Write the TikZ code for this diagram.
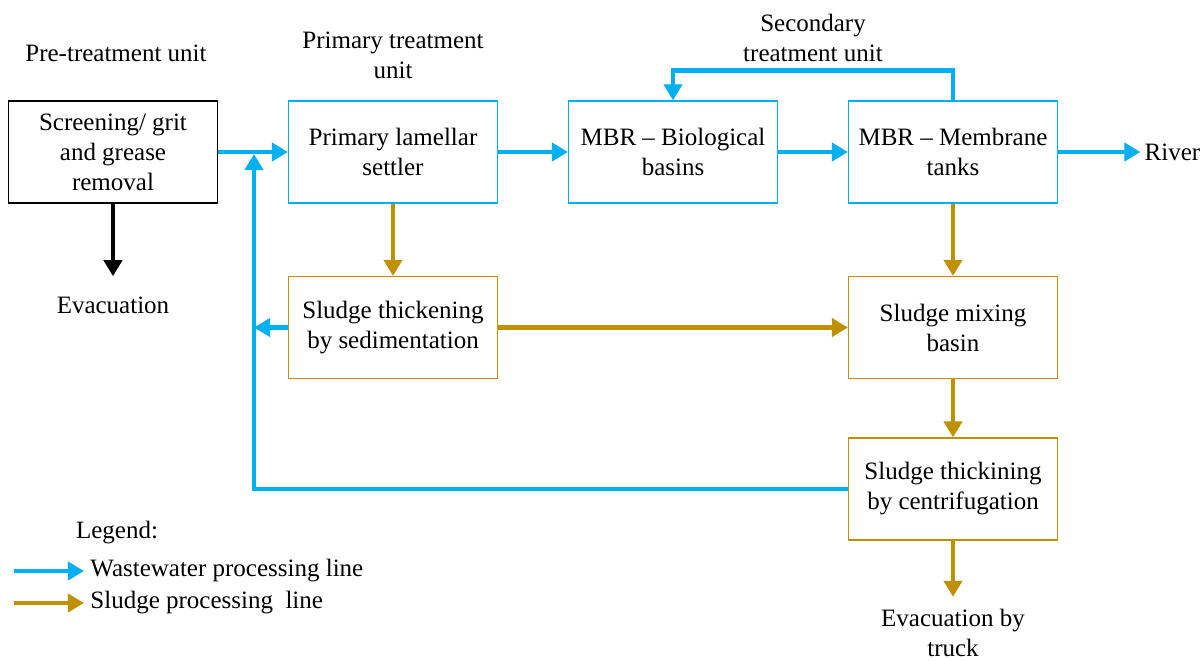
\documentclass[tikz,border=0pt]{standalone}
\usepackage{fontspec}
\setmainfont{Liberation Serif}
\usetikzlibrary{arrows.meta}
\definecolor{water}{HTML}{00B0F0}
\definecolor{sludge}{HTML}{BF9000}
\tikzstyle{pretreat} = [rectangle, minimum width=104.5pt, minimum height=51pt, text centered, align=center, draw=black, line width=0.6pt]
\tikzstyle{waterbox} = [rectangle, minimum width=104.5pt, minimum height=51pt, text centered, align=center, draw=water, line width=0.6pt]
\tikzstyle{sludgebox} = [rectangle, minimum width=104.5pt, minimum height=51pt, text centered, align=center, draw=sludge, line width=0.6pt]
\tikzstyle{plaintext} = [align=center, inner sep=2pt]
\tikzstyle{waterarrow} = [line width=2.2pt, draw=water, -{Triangle[length=8pt,width=9pt]}]
\tikzstyle{sludgearrow} = [line width=2.2pt, draw=sludge, -{Triangle[length=8pt,width=9pt]}]
\tikzstyle{blackarrow} = [line width=2.2pt, draw=black, -{Triangle[length=8pt,width=9pt]}]

\begin{document}
\begin{tikzpicture}[node distance=140pt, font=\fontsize{12.5}{15}\selectfont]

\useasboundingbox (-56.5pt,76pt) rectangle (545pt,-254pt);

\node (pre) [pretreat] {Screening/ grit\\and grease\\removal};
\node (prim) [waterbox, right of=pre] {Primary lamellar\\settler};
\node (bio) [waterbox, right of=prim] {MBR -- Biological\\basins};
\node (memb) [waterbox, right of=bio] {MBR -- Membrane\\tanks};
\node (sed) [sludgebox, below of=prim, node distance=87.75pt] {Sludge thickening\\by sedimentation};
\node (mix) [sludgebox, below of=memb, node distance=87.75pt] {Sludge mixing\\basin};
\node (cen) [sludgebox, below of=mix, node distance=80.75pt] {Sludge thickining\\by centrifugation};

\node (river) [plaintext, right of=memb, node distance=109.75pt] {River};
\node (evac) [plaintext, below of=pre, node distance=76.5pt] {Evacuation};
\node (truck) [plaintext, below of=cen, node distance=72pt] {Evacuation by\\truck};
\node (tpre) [plaintext, above of=pre, node distance=49.5pt, xshift=1.5pt] {Pre-treatment unit};
\node (tprim) [plaintext, above of=prim, node distance=48.5pt] {Primary treatment\\unit};
\node (tsec) [plaintext, above of=memb, node distance=57pt, xshift=-70pt] {Secondary\\treatment unit};

% legend
\node (leg) [plaintext, below of=pre, node distance=190.5pt, xshift=2pt] {Legend:};
\coordinate (lw) at (-49.5pt,-209.5pt);
\coordinate (ls) at (-49.5pt,-225.5pt);
\node (lwt) [plaintext, anchor=west, inner sep=3pt] at (-14.5pt,-209.5pt) {Wastewater processing line};
\node (lst) [plaintext, anchor=west, inner sep=3pt] at (-14.5pt,-225.5pt) {Sludge processing\ \ line};
\draw [waterarrow] (lw) -- (lwt.west);
\draw [sludgearrow] (ls) -- (lst.west);

\coordinate (jn) at (70.5pt,0);

\draw [waterarrow] (pre) -- (prim);
\draw [waterarrow] (prim) -- (bio);
\draw [waterarrow] (bio) -- (memb);
\draw [waterarrow] (memb) -- (river);
\draw [waterarrow] (memb.north) -- ++(0,15pt) -| (bio.north);
\draw [blackarrow, shorten >=8pt] (pre) -- (evac);
\draw [sludgearrow] (prim) -- (sed);
\draw [sludgearrow] (sed) -- (mix);
\draw [waterarrow] (sed.west) -- (sed.west -| jn);
\draw [waterarrow, shorten >=1pt] (cen.west) -| (jn);
\draw [sludgearrow] (memb) -- (mix);
\draw [sludgearrow] (mix) -- (cen);
\draw [sludgearrow, shorten >=4pt] (cen) -- (truck);

\end{tikzpicture}
\end{document}
